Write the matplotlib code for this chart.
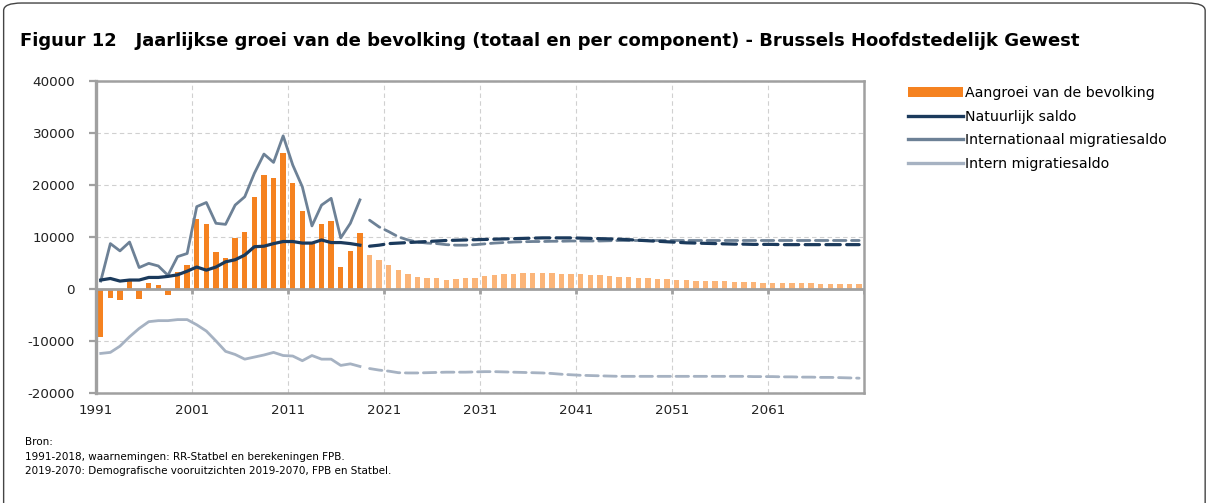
import numpy as np
import matplotlib.pyplot as plt
from matplotlib.patches import FancyBboxPatch, Patch
from matplotlib.lines import Line2D

# observed 1991-2018
years_obs = list(range(1991, 2019))
growth_obs = [-9300, -1700, -2200, 1500, -2000, 1100, 800, -1200, 3300, 4500,
              13500, 12400, 7000, 6000, 9700, 11000, 17700, 21900, 21300, 26100,
              20300, 14900, 8800, 12400, 13100, 4200, 7200, 10800]
natural_obs = [1700, 2000, 1500, 1700, 1700, 2200, 2200, 2400, 2700, 3400,
               4200, 3600, 4200, 5200, 5600, 6500, 8100, 8200, 8700, 9100,
               9100, 8800, 8800, 9400, 8900, 8900, 8700, 8400]
intl_obs = [1500, 8700, 7300, 9000, 4100, 4900, 4400, 2600, 6200, 6800,
            15800, 16600, 12600, 12400, 16100, 17700, 22200, 25900, 24300, 29400,
            23800, 19600, 12100, 16100, 17400, 9800, 12600, 17100]
intern_obs = [-12400, -12200, -11000, -9200, -7600, -6300, -6100, -6100, -5900, -5900,
              -6900, -8100, -10000, -12000, -12600, -13500, -13100, -12700, -12200, -12800,
              -12900, -13800, -12800, -13500, -13500, -14700, -14400, -14900]

# projections 2019-2070
years_proj = list(range(2019, 2071))
growth_proj = [6500, 5500, 4600, 3700, 2800, 2200, 2050, 2000, 1800, 1850,
               2000, 2100, 2400, 2600, 2800, 2950, 3050, 3100, 3050, 3050,
               2950, 2900, 2800, 2700, 2600, 2450, 2300, 2200, 2100, 2050,
               1950, 1860, 1750, 1680, 1600, 1540, 1470, 1420, 1360, 1320,
               1280, 1220, 1190, 1150, 1120, 1090, 1060, 1030, 1000, 960,
               930, 900]
natural_proj = [8200, 8400, 8700, 8800, 8900, 9000, 9100, 9200, 9300, 9350,
                9400, 9450, 9500, 9550, 9600, 9650, 9700, 9750, 9800, 9800,
                9800, 9800, 9750, 9700, 9650, 9600, 9550, 9450, 9350, 9250,
                9150, 9050, 8950, 8850, 8800, 8750, 8700, 8650, 8600, 8600,
                8550, 8550, 8550, 8500, 8500, 8500, 8500, 8500, 8500, 8500,
                8500, 8500]
intl_proj = [13200, 11900, 11000, 10000, 9400, 9000, 8800, 8700, 8500, 8400,
             8400, 8500, 8650, 8800, 8900, 9000, 9050, 9100, 9100, 9150,
             9150, 9200, 9200, 9200, 9200, 9250, 9300, 9300, 9300, 9300,
             9300, 9300, 9300, 9300, 9300, 9300, 9300, 9300, 9300, 9300,
             9300, 9300, 9300, 9300, 9300, 9300, 9300, 9300, 9300, 9300,
             9300, 9300]
intern_proj = [-15300, -15600, -15800, -16100, -16150, -16150, -16100, -16050, -16000, -16000,
               -16000, -15950, -15900, -15900, -15950, -16000, -16050, -16100, -16150, -16250,
               -16400, -16500, -16600, -16650, -16700, -16750, -16800, -16800, -16800, -16800,
               -16800, -16800, -16800, -16800, -16800, -16800, -16800, -16800, -16800, -16800,
               -16850, -16850, -16850, -16900, -16900, -16950, -16950, -17000, -17000, -17050,
               -17100, -17150]

tick_labels = ['1991', '2001', '2011', '2021', '2031', '2041', '2051', '2061']

c_growth = '#F58220'
c_growth_proj = '#FBB579'
c_nat = '#1B3A5C'
c_intl = '#6D8196'
c_intern = '#A6B2C2'
c_axis = '#A0A0A0'

fig = plt.figure(figsize=(12.1, 5.03), dpi=100)
frame = FancyBboxPatch((0.003, -0.05), 0.993, 1.044, boxstyle='round,pad=0,rounding_size=0.015',
                       transform=fig.transFigure, fill=False, edgecolor='#444444', lw=1.0)
fig.patches.append(frame)

ax = fig.add_axes([0.0793, 0.2187, 0.6347, 0.6209])

ax.bar(years_obs, growth_obs, width=0.57, color=c_growth, zorder=2)
ax.bar(years_proj, growth_proj, width=0.57, color=c_growth_proj, zorder=2)

dash = (0, (4.5, 2.0))
ax.plot(years_obs, intern_obs, color=c_intern, lw=2.0, zorder=3)
ax.plot(years_proj, intern_proj, color=c_intern, lw=2.0, ls=dash, dash_capstyle='round', zorder=3)
ax.plot(years_obs, intl_obs, color=c_intl, lw=2.0, zorder=3)
ax.plot(years_proj, intl_proj, color=c_intl, lw=2.0, ls=dash, dash_capstyle='round', zorder=3)
ax.plot(years_obs, natural_obs, color=c_nat, lw=2.3, zorder=4)
ax.plot(years_proj, natural_proj, color=c_nat, lw=2.3, ls=dash, dash_capstyle='round', zorder=4)

ax.set_xlim(1990.5, 2070.5)
ax.set_ylim(-20000, 40000)
ax.set_yticks(range(-20000, 40001, 10000))
ax.set_yticklabels([str(v) for v in range(-20000, 40001, 10000)])
tick_pos = [int(t) - 0.5 for t in tick_labels]
ax.set_xticks(tick_pos)
ax.set_xticklabels(tick_labels)
ax.tick_params(axis='x', length=0, pad=8, labelsize=9.7, colors='#222222')
ax.tick_params(axis='y', length=5, width=1.6, color=c_axis, direction='out',
               pad=10, labelsize=9.7, labelcolor='#222222')

ax.grid(True, linestyle=(0, (4, 3)), color='#D0D0D0', lw=0.8, zorder=0)
ax.set_axisbelow(True)
for s in ax.spines.values():
    s.set_color(c_axis)
    s.set_linewidth(1.8)
ax.spines['left'].set_linewidth(2.4)

# zero axis with small ticks at category boundaries
ax.axhline(0, color=c_axis, lw=2.0, zorder=5)
ax.vlines(tick_pos + [2070.5], -900, 0, color=c_axis, lw=2.0, zorder=5)

handles = [Patch(facecolor=c_growth, edgecolor='none'),
           Line2D([], [], color=c_nat, lw=2.4),
           Line2D([], [], color=c_intl, lw=2.4),
           Line2D([], [], color=c_intern, lw=2.4)]
labels = ['Aangroei van de bevolking', 'Natuurlijk saldo',
          'Internationaal migratiesaldo', 'Intern migratiesaldo']
fig.legend(handles, labels, loc='upper left', bbox_to_anchor=(0.75, 0.829),
           frameon=False, fontsize=10.2, handlelength=3.9, handleheight=0.7,
           handletextpad=0.15, labelspacing=0.68, borderaxespad=0, borderpad=0)

fig.text(0.0165, 0.919, 'Figuur 12   Jaarlijkse groei van de bevolking (totaal en per component) - Brussels Hoofdstedelijk Gewest',
         fontsize=13, fontweight='bold', va='center')

fig.text(0.0207, 0.121, 'Bron:', fontsize=7.5, va='center')
fig.text(0.0207, 0.0915, '1991-2018, waarnemingen: RR-Statbel en berekeningen FPB.', fontsize=7.5, va='center')
fig.text(0.0207, 0.0636, '2019-2070: Demografische vooruitzichten 2019-2070, FPB en Statbel.', fontsize=7.5, va='center')

fig.savefig('out.png', dpi=100)
